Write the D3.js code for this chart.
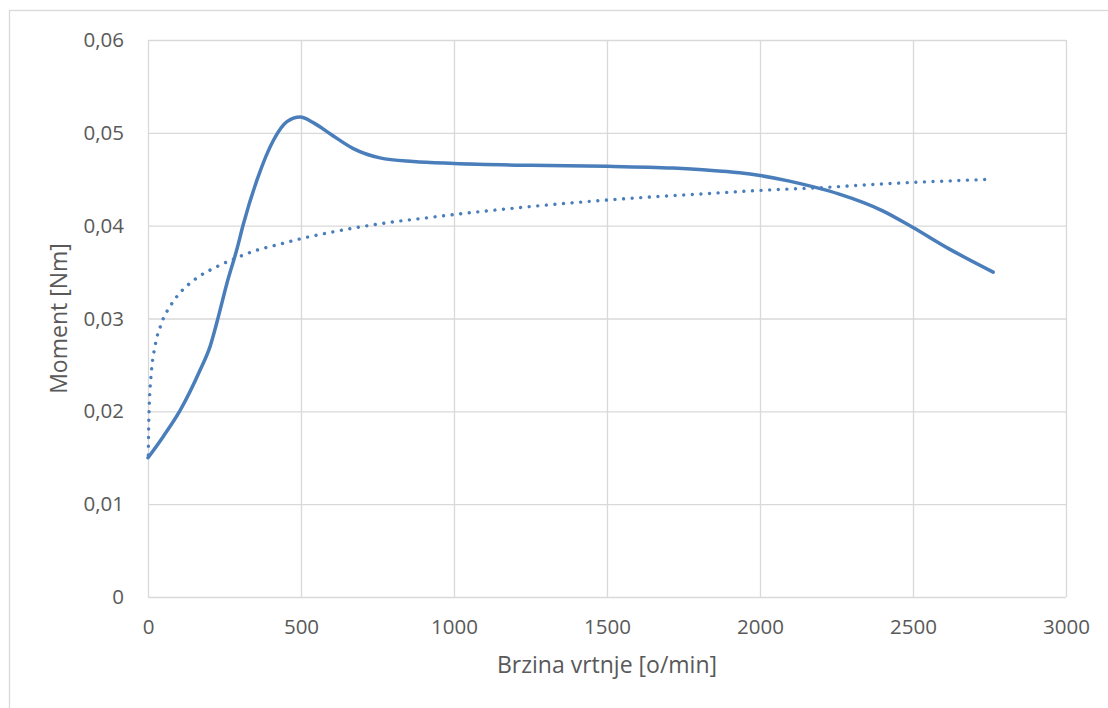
<!DOCTYPE html>
<html>
<head>
<meta charset="utf-8">
<script src="https://cdn.jsdelivr.net/npm/d3@7"></script>
<style>
  html, body { margin: 0; padding: 0; background: #fff; }
  svg { display: block; }
  text { font-family: "Open Sans", "Liberation Sans", sans-serif; fill: #595959; }
</style>
</head>
<body>
<script>
// ---- data ----
const xTicks = [0, 500, 1000, 1500, 2000, 2500, 3000];
const yTicks = [0, 0.01, 0.02, 0.03, 0.04, 0.05, 0.06];
const xTickLabels = ["0", "500", "1000", "1500", "2000", "2500", "3000"];
const yTickLabels = ["0", "0,01", "0,02", "0,03", "0,04", "0,05", "0,06"];
const xTitle = "Brzina vrtnje [o/min]";
const yTitle = "Moment [Nm]";

// measured torque curve (solid)
const speed = [0, 50, 105, 171, 203, 230, 258, 290, 312, 356, 410, 454, 497, 540, 595, 671, 758, 867, 1000, 1250, 1500, 1715, 1824, 1933, 2000, 2096, 2172, 2259, 2401, 2500, 2618, 2762];
const torque = [0.0150, 0.0173, 0.0201, 0.0245, 0.0270, 0.0302, 0.0338, 0.0374, 0.0402, 0.0449, 0.0492, 0.0512, 0.0517, 0.0511, 0.0499, 0.0483, 0.0473, 0.0469, 0.0467, 0.0465, 0.0464, 0.0462, 0.0460, 0.0457, 0.0454, 0.0448, 0.0442, 0.0434, 0.0416, 0.0398, 0.0375, 0.0350];

// trend curve (dotted)
const trendSpeed = [1, 2, 4, 7, 10, 15, 20, 30, 40, 50, 70, 100, 130, 170, 220, 280, 350, 430, 500, 600, 700, 800, 900, 1000, 1200, 1400, 1600, 1800, 2000, 2200, 2400, 2600, 2760];
const trendTorque = [0.0153, 0.0179, 0.0205, 0.0226, 0.0239, 0.0255, 0.0265, 0.0281, 0.0291, 0.0300, 0.0312, 0.0326, 0.0336, 0.0346, 0.0355, 0.0364, 0.0373, 0.0380, 0.0386, 0.0393, 0.0399, 0.0404, 0.0408, 0.0412, 0.0419, 0.0425, 0.0430, 0.0434, 0.0438, 0.0441, 0.0445, 0.0448, 0.0450];

// ---- layout ----
const W = 1108, H = 708;
const L = 148, R = 1066, T = 40, B = 597;
const color = "#4a7ebb";
const grid = "#d9d9d9";

const svg = d3.select("body").append("svg").attr("width", W).attr("height", H);

// outer chart border
svg.append("rect").attr("x", 9.5).attr("y", 10.5).attr("width", 1110).attr("height", 710)
  .attr("fill", "none").attr("stroke", grid).attr("stroke-width", 1.3);

const x = d3.scaleLinear().domain([0, 3000]).range([L, R]);
const y = d3.scaleLinear().domain([0, 0.06]).range([B, T]);

// gridlines + tick labels
const yAxis = d3.axisLeft(y).tickValues(yTicks).tickSize(-(R - L)).tickPadding(24)
  .tickFormat((d, i) => yTickLabels[i]);
const gy = svg.append("g").attr("transform", `translate(${L},0)`).call(yAxis);
gy.select(".domain").remove();
gy.selectAll(".tick line").attr("stroke", grid).attr("stroke-width", 1.3);
gy.selectAll(".tick text").attr("font-size", 20.5).attr("fill", "#595959");

const xAxis = d3.axisBottom(x).tickValues(xTicks).tickSize(-(B - T)).tickPadding(22)
  .tickFormat((d, i) => xTickLabels[i]);
const gx = svg.append("g").attr("transform", `translate(0,${B})`).call(xAxis);
gx.select(".domain").remove();
gx.selectAll(".tick line").attr("stroke", grid).attr("stroke-width", 1.3);
gx.selectAll(".tick text").attr("font-size", 20.5).attr("fill", "#595959");

// series
const solid = speed.map((s, i) => [s, torque[i]]);
const dotted = trendSpeed.map((s, i) => [s, trendTorque[i]]);

const lineSolid = d3.line().x(d => x(d[0])).y(d => y(d[1])).curve(d3.curveMonotoneX);
const lineDotted = d3.line().x(d => x(d[0])).y(d => y(d[1])).curve(d3.curveMonotoneX);

svg.append("path").datum(dotted).attr("d", lineDotted)
  .attr("fill", "none").attr("stroke", color).attr("stroke-width", 3.4)
  .attr("stroke-linecap", "round").attr("stroke-dasharray", "0.01 8.6");

svg.append("path").datum(solid).attr("d", lineSolid)
  .attr("fill", "none").attr("stroke", color).attr("stroke-width", 3.5)
  .attr("stroke-linejoin", "round").attr("stroke-linecap", "round");

// axis titles
svg.append("text").attr("x", (L + R) / 2).attr("y", 667).attr("text-anchor", "middle")
  .attr("dominant-baseline", "middle").attr("font-size", 23).text(xTitle);
svg.append("text").attr("transform", `translate(61,${(T + B) / 2}) rotate(-90)`)
  .attr("text-anchor", "middle").attr("dominant-baseline", "middle").attr("font-size", 23).text(yTitle);
</script>
</body>
</html>
